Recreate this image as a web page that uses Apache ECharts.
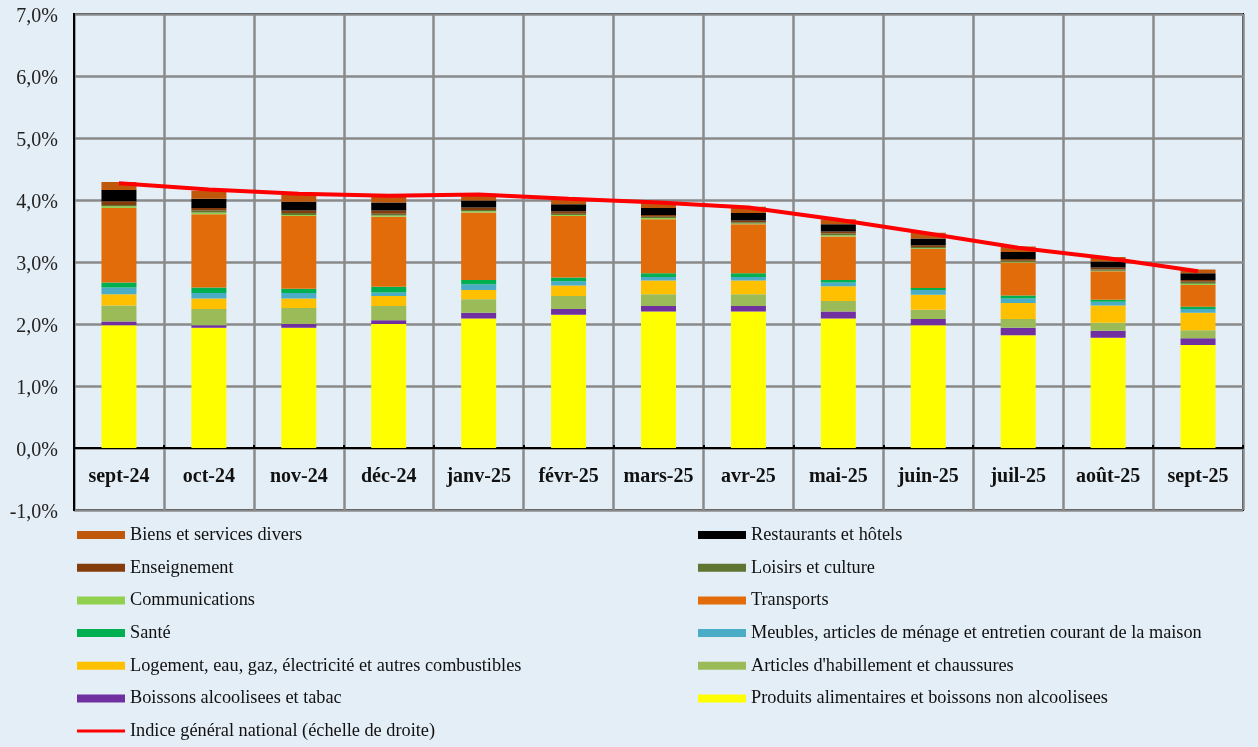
<!DOCTYPE html>
<html>
<head>
<meta charset="utf-8">
<script src="https://cdn.jsdelivr.net/npm/echarts@6/dist/echarts.min.js"></script>
<style>
html,body{margin:0;padding:0;background:#e4eef6;}
#chart{width:1258px;height:747px;}
</style>
</head>
<body>
<div id="chart"></div>
<script>
const categories = ['sept-24','oct-24','nov-24','déc-24','janv-25','févr-25','mars-25','avr-25','mai-25','juin-25','juil-25','août-25','sept-25'];
const yTicks = [-1,0,1,2,3,4,5,6,7];

const alimentaires   = [1.98,1.94,1.94,2.00,2.09,2.15,2.20,2.20,2.09,1.98,1.82,1.78,1.66];
const boissons       = [0.06,0.04,0.06,0.06,0.09,0.09,0.09,0.09,0.11,0.10,0.12,0.11,0.11];
const habillement    = [0.26,0.26,0.26,0.23,0.22,0.21,0.19,0.19,0.17,0.15,0.14,0.13,0.13];
const logement       = [0.18,0.17,0.15,0.16,0.15,0.17,0.22,0.22,0.24,0.24,0.26,0.28,0.28];
const meubles        = [0.11,0.09,0.09,0.06,0.09,0.07,0.06,0.06,0.06,0.08,0.07,0.06,0.06];
const sante          = [0.08,0.09,0.07,0.09,0.07,0.06,0.06,0.06,0.04,0.03,0.05,0.03,0.04];
const transports     = [1.20,1.18,1.17,1.13,1.09,0.99,0.87,0.79,0.70,0.63,0.53,0.46,0.35];
const communications = [0.03,0.03,0.02,0.02,0.02,0.02,0.02,0.01,0.02,0.01,0.01,0.01,0.02];
const loisirs        = [0.02,0.03,0.03,0.03,0.02,0.02,0.02,0.02,0.03,0.02,0.02,0.02,0.03];
const enseignement   = [0.06,0.04,0.04,0.05,0.04,0.04,0.03,0.03,0.03,0.03,0.03,0.03,0.03];
const restaurants    = [0.18,0.15,0.14,0.13,0.11,0.11,0.11,0.12,0.12,0.11,0.11,0.10,0.11];
const divers         = [0.13,0.13,0.12,0.10,0.11,0.08,0.08,0.10,0.08,0.09,0.09,0.07,0.06];
const indice         = [4.27,4.17,4.10,4.07,4.09,4.02,3.96,3.88,3.68,3.46,3.23,3.06,2.85];

const N = {
  alim:'Produits alimentaires et boissons non alcoolisees',
  boi:'Boissons alcoolisees et tabac',
  hab:"Articles d'habillement et chaussures",
  log:'Logement, eau, gaz, électricité et autres combustibles',
  meu:'Meubles, articles de ménage et entretien courant de la maison',
  san:'Santé',
  tra:'Transports',
  com:'Communications',
  loi:'Loisirs et culture',
  ens:'Enseignement',
  res:'Restaurants et hôtels',
  div:'Biens et services divers',
  ind:'Indice général national (échelle de droite)'
};

const stackDefs = [
  [N.alim, alimentaires, '#ffff00'],
  [N.boi, boissons, '#7030a0'],
  [N.hab, habillement, '#9bbb59'],
  [N.log, logement, '#ffc000'],
  [N.meu, meubles, '#4bacc6'],
  [N.san, sante, '#00b050'],
  [N.tra, transports, '#e36c0a'],
  [N.com, communications, '#92d050'],
  [N.loi, loisirs, '#5f7530'],
  [N.ens, enseignement, '#843c0c'],
  [N.res, restaurants, '#000000'],
  [N.div, divers, '#c0580c']
];

const FONT = '"Liberation Serif", "Times New Roman", serif';

const series = stackDefs.map(d => ({
  name: d[0], type: 'bar', stack: 'total', data: d[1], barWidth: 35,
  itemStyle: { color: d[2] }, emphasis: { disabled: true }
}));
series.push({
  name: N.ind, type: 'line', data: indice, symbol: 'none', smooth: false,
  color: '#ff0000', lineStyle: { color: '#ff0000', width: 4 }, itemStyle: { color: '#ff0000' }, z: 10
});

const legendText = { fontFamily: FONT, fontSize: 18.3, color: '#111', lineHeight: 20 };
const legendBase = { orient: 'vertical', itemWidth: 48, itemHeight: 8, itemGap: 12.7, icon: 'rect',
  textStyle: legendText, selectedMode: false, padding: 0 };

const chart = echarts.init(document.getElementById('chart'));
chart.setOption({
  backgroundColor: '#e4eef6',
  animation: false,
  grid: { left: 74, right: 15, top: 14, bottom: 237, show: true, borderColor: '#000', borderWidth: 2, backgroundColor: 'transparent' },
  legend: [
    Object.assign({}, legendBase, { left: 77, top: 525, data: [N.div, N.ens, N.com, N.san, N.log, N.boi] }),
    Object.assign({}, legendBase, { left: 698, top: 525, data: [N.res, N.loi, N.tra, N.meu, N.hab, N.alim] }),
    Object.assign({}, legendBase, { left: 77, top: 721, itemHeight: 3, data: [N.ind] })
  ],
  xAxis: {
    type: 'category', data: categories, boundaryGap: true, position: 'bottom', offset: -62,
    axisLine: { onZero: false, lineStyle: { color: '#000', width: 2 } },
    axisTick: { show: true, inside: true, length: 3, lineStyle: { color: '#000', width: 2 } },
    splitLine: { show: true, interval: 0, lineStyle: { color: '#8a8a8a', width: 2.5 } },
    axisLabel: { fontFamily: FONT, fontSize: 20, fontWeight: 'bold', color: '#111', margin: 19, interval: 0 }
  },
  yAxis: {
    type: 'value', min: yTicks[0], max: yTicks[yTicks.length - 1], interval: 1,
    axisLine: { show: true, lineStyle: { color: '#000', width: 2 } },
    axisTick: { show: false },
    splitLine: { show: true, lineStyle: { color: '#8a8a8a', width: 2.5 } },
    axisLabel: { fontFamily: FONT, fontSize: 20, color: '#222', margin: 16, verticalAlign: 'top', lineHeight: 6,
      formatter: v => v.toFixed(1).replace('.', ',') + '%' }
  },
  series: series
});
</script>
</body>
</html>
